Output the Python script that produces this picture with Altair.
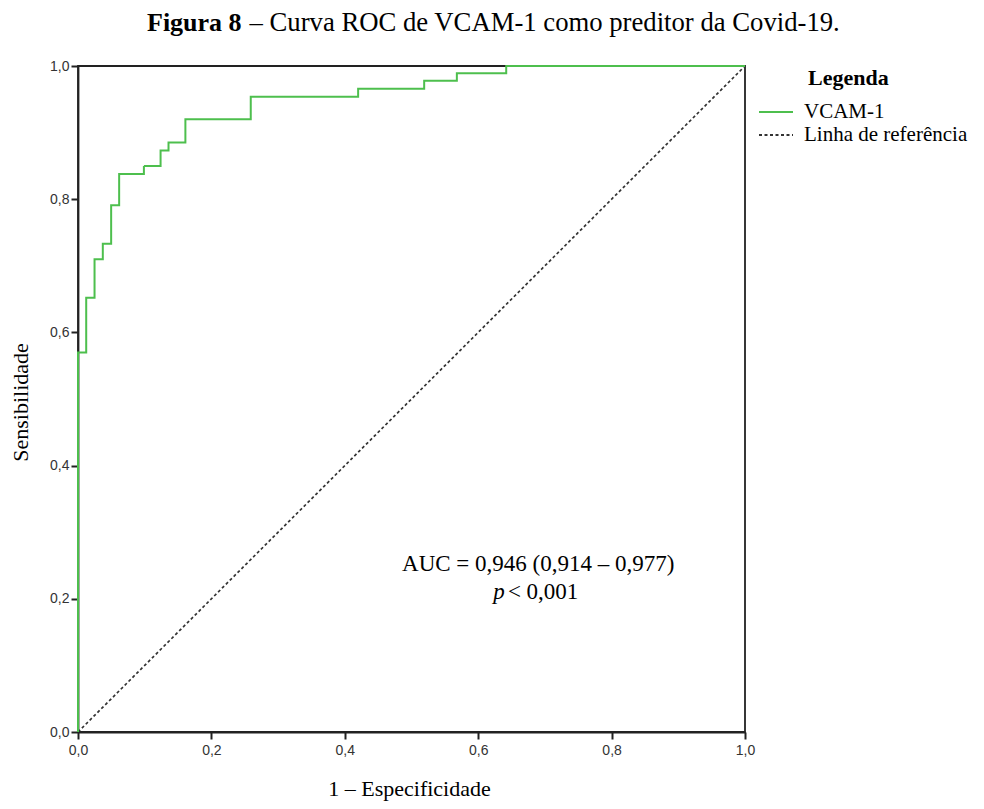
import altair as alt
import pandas as pd

# ROC curve corner points (1 - especificidade, sensibilidade)
fpr = [0.0, 0.0, 0.0123, 0.0248, 0.0372, 0.0497, 0.0617, 0.0988, 0.1238, 0.1357,
       0.161, 0.259, 0.420, 0.519, 0.568, 0.642, 1.0]
tpr = [0.0, 0.570, 0.652, 0.710, 0.733, 0.791, 0.838, 0.850, 0.873, 0.885,
       0.920, 0.954, 0.966, 0.978, 0.989, 1.0, 1.0]

ref_x = [0.0, 1.0]
ref_y = [0.0, 1.0]

series = ["VCAM-1", "Linha de referência"]
colors = ["#4dbf4d", "#333333"]
dashes = [[1, 0], [3, 2.5]]

tick_values = [0.0, 0.2, 0.4, 0.6, 0.8, 1.0]

auc_text = "AUC = 0,946 (0,914 – 0,977)"
p_italic = "p"
p_rest = "< 0,001"

title_bold = "Figura 8"
title_rest = "– Curva ROC de VCAM-1 como preditor da Covid-19."

SERIF = "Liberation Serif"
SANS = "Liberation Sans"
AX = "#222222"

curve_df = pd.DataFrame({"x": fpr, "y": tpr, "serie": series[0], "ordem": list(range(len(fpr)))})
ref_df = pd.DataFrame({"x": ref_x, "y": ref_y, "serie": series[1], "ordem": [0, 1]})

label_expr = "replace(format(datum.value, '.1f'), '.', ',')"

X = alt.X(
    "x:Q",
    scale=alt.Scale(domain=[0, 1], nice=False, zero=True),
    title="1 – Especificidade",
    axis=alt.Axis(
        values=tick_values, labelExpr=label_expr, grid=False,
        tickSize=7, tickWidth=2, tickColor=AX,
        domainColor=AX, domainWidth=1.8,
        labelFont=SANS, labelFontSize=14, labelColor="#333333", labelPadding=4,
        labelFlush=False, labelOverlap=False,
        titleFont=SERIF, titleFontSize=22, titleFontWeight="normal", titleColor="black",
        titleX=331, titleY=63, titleBaseline="alphabetic", titleAlign="center",
    ),
)
Y = alt.Y(
    "y:Q",
    scale=alt.Scale(domain=[0, 1], nice=False, zero=True),
    title="Sensibilidade",
    axis=alt.Axis(
        values=tick_values, labelExpr=label_expr, grid=False,
        tickSize=7, tickWidth=2, tickColor=AX,
        domainColor=AX, domainWidth=1.8,
        labelFont=SANS, labelFontSize=14, labelColor="#333333", labelPadding=2,
        labelFlush=False, labelOverlap=False,
        titleFont=SERIF, titleFontSize=22, titleFontWeight="normal", titleColor="black",
        titleX=-58, titleY=336, titleAngle=-90, titleBaseline="middle", titleAlign="center",
    ),
)

legend = alt.Legend(
    title=None, orient="none", legendX=680, legendY=35,
    symbolType="stroke", symbolSize=1156, symbolStrokeWidth=1.8,
    labelFont=SERIF, labelFontSize=21, labelColor="black", labelOffset=10,
    labelLimit=400, clipHeight=22, rowPadding=1, padding=0,
)
color = alt.Color("serie:N", scale=alt.Scale(domain=series, range=colors), legend=legend)
dash = alt.StrokeDash("serie:N", scale=alt.Scale(domain=series, range=dashes), legend=legend)

ref_line = alt.Chart(ref_df).mark_line(strokeWidth=1.7).encode(
    x=X, y=Y, color=color, strokeDash=dash, order="ordem:Q"
)
curve = alt.Chart(curve_df).mark_line(interpolate="step-after", strokeWidth=2).encode(
    x=X, y=Y, color=color, strokeDash=dash, order="ordem:Q"
)

ann_df = pd.DataFrame({"x": [0.690], "y": [0.241], "t": [auc_text]})
ann = alt.Chart(ann_df).mark_text(
    font=SERIF, fontSize=23, align="center", baseline="alphabetic", color="black"
).encode(x=X, y=Y, text="t:N")

p1_df = pd.DataFrame({"x": [0.6397], "y": [0.1994], "t": [p_italic]})
p1 = alt.Chart(p1_df).mark_text(
    font=SERIF, fontSize=23, fontStyle="italic", align="right", baseline="alphabetic", color="black"
).encode(x=X, y=Y, text="t:N")
p2_df = pd.DataFrame({"x": [0.6445], "y": [0.1994], "t": [p_rest]})
p2 = alt.Chart(p2_df).mark_text(
    font=SERIF, fontSize=23, align="left", baseline="alphabetic", color="black"
).encode(x=X, y=Y, text="t:N")

leg_title = alt.Chart(pd.DataFrame({"t": ["Legenda"]})).mark_text(
    font=SERIF, fontSize=22, fontWeight="bold", align="left", baseline="alphabetic", color="black"
).encode(text="t:N", x=alt.value(730), y=alt.value(19))

t1 = alt.Chart(pd.DataFrame({"t": [title_bold]})).mark_text(
    font=SERIF, fontSize=26, fontWeight="bold", align="left", baseline="alphabetic", color="black"
).encode(text="t:N", x=alt.value(69), y=alt.value(-35))
t2 = alt.Chart(pd.DataFrame({"t": [title_rest]})).mark_text(
    font=SERIF, fontSize=26.7, align="left", baseline="alphabetic", color="black"
).encode(text="t:N", x=alt.value(171.5), y=alt.value(-35))

chart = alt.layer(ref_line, curve, ann, p1, p2, leg_title, t1, t2).properties(
    width=667,
    height=666,
    autosize=alt.AutoSizeParams(type="none"),
    padding={"left": 70, "top": 58, "right": 231, "bottom": 69},
    background="white",
).configure_view(
    stroke=AX, strokeWidth=1.8
)

chart.save("out.html", embed_options={"renderer": "svg", "actions": False})
